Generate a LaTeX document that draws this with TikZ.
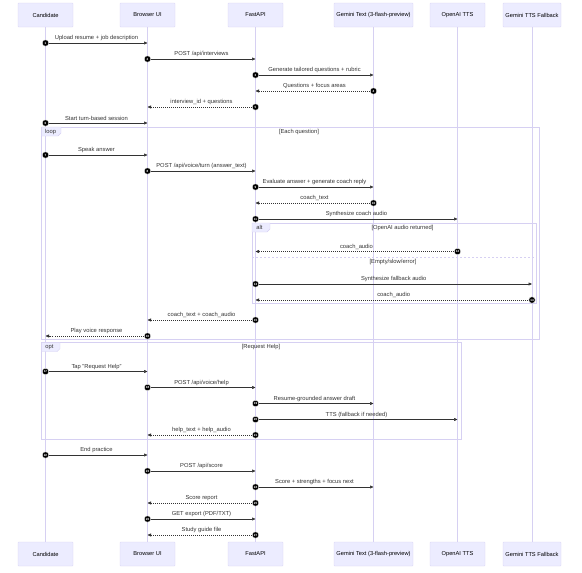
\documentclass[tikz,border=0pt]{standalone}
\usepackage{fontspec}
\setmainfont{Liberation Sans}
\usetikzlibrary{arrows.meta}
\definecolor{actfill}{HTML}{ECECFF}
\definecolor{actline}{HTML}{D6D0F2}
\definecolor{ink}{HTML}{333333}
\tikzset{
  actor/.style={draw=actline,fill=actfill,minimum height=24pt,inner sep=0pt,rounded corners=0.6pt,font=\fontsize{5.7}{6}\selectfont,text=black},
  lifeline/.style={draw=actline,line width=0.6pt},
  msg/.style={draw=ink,line width=0.5pt,-{Triangle[length=3.5pt,width=3pt]}},
  reply/.style={msg,dash pattern=on 1pt off 1pt},
  num/.style={circle,fill=black,draw=white,line width=0.3pt,minimum size=6.5pt,inner sep=0pt,text=white,font=\fontsize{3}{3}\selectfont\bfseries},
  lbl/.style={font=\fontsize{5.8}{6}\selectfont,text=ink,inner sep=0pt},
  frame/.style={draw=actline,line width=0.5pt},
  tab/.style={draw=actline,fill=actfill,line width=0.4pt}
}
\begin{document}
\begin{tikzpicture}[x=1pt,y=-1pt]
\pgfmathsetmacro{\ktop}{15}
\pgfmathsetmacro{\kbot}{554}
\useasboundingbox (0,0) rectangle (582,573);
% actors and lifelines
\foreach \p/\x/\w/\t in {C/45.5/55/Candidate,B/147.5/55/Browser UI,F/255.5/55/FastAPI,G/373.5/79/{Gemini Text (3-flash-preview)},O/457.5/55/OpenAI TTS,T/532/58/Gemini TTS Fallback}{
  \node[actor,minimum width=\w pt](\p) at (\x,\ktop){\t};
  \node[actor,minimum width=\w pt](bot\p) at (\x,\kbot){\t};
  \draw[lifeline](\p)--(bot\p);
}
% loop frame
\draw[frame](41.7,127) rectangle (539,339);
\draw[tab](41.7,127)--(61,127)--(61,133)--(58,136)--(41.7,136)--cycle;
\node[lbl] at (50.5,131.5){loop};
\node[lbl] at (299,131.5){[Each question]};
% alt frame
\draw[frame](252,223) rectangle (536,303);
\draw[tab](252,223)--(270,223)--(270,229)--(267,232)--(252,232)--cycle;
\node[lbl] at (259.5,227.5){alt};
\node[lbl] at (402.5,228){[OpenAI audio returned]};
\draw[frame,dash pattern=on 2pt off 2pt](252,257)--(536,257);
\node[lbl] at (393,262){[Empty/slow/error]};
% opt frame
\draw[frame](41.7,342.7) rectangle (461.7,439);
\draw[tab](41.7,342.7)--(60,342.7)--(60,348.7)--(57,351.7)--(41.7,351.7)--cycle;
\node[lbl] at (49.5,347.3){opt};
\node[lbl] at (261,347.3){[Request Help]};
% messages
\foreach \n/\s/\e/\y/\txt/\st in {
  1/C/B/43/{Upload resume + job description}/msg,
  2/B/F/59/{POST /api/interviews}/msg,
  3/F/G/75/{Generate tailored questions + rubric}/msg,
  4/G/F/91/{Questions + focus areas}/reply,
  5/F/B/107/{interview\_id + questions}/reply,
  6/C/B/123/{Start turn-based session}/msg,
  7/C/B/155/{Speak answer}/msg,
  8/B/F/171/{POST /api/voice/turn (answer\_text)}/msg,
  9/F/G/187/{Evaluate answer + generate coach reply}/msg,
  10/G/F/203/{coach\_text}/reply,
  11/F/O/219/{Synthesize coach audio}/msg,
  12/O/F/251.5/{coach\_audio}/reply,
  13/F/T/284/{Synthesize fallback audio}/msg,
  14/T/F/300/{coach\_audio}/reply,
  15/F/B/320/{coach\_text + coach\_audio}/reply,
  16/B/C/336/{Play voice response}/reply,
  17/C/B/371.5/{Tap "Request Help"}/msg,
  18/B/F/387.5/{POST /api/voice/help}/msg,
  19/F/G/403.5/{Resume-grounded answer draft}/msg,
  20/F/O/419.5/{TTS (fallback if needed)}/msg,
  21/F/B/435/{help\_text + help\_audio}/reply,
  22/C/B/455/{End practice}/msg,
  23/B/F/471/{POST /api/score}/msg,
  24/F/G/487/{Score + strengths + focus next}/msg,
  25/F/B/503/{Score report}/reply,
  26/B/F/519/{GET export (PDF/TXT)}/msg,
  27/F/B/535/{Study guide file}/reply}{
  \coordinate(m\n) at (\s |- 0,\y);
  \coordinate(t\n) at (\e |- 0,\y);
  \draw[\st](m\n)--(t\n)node[lbl,midway,above=1.8pt]{\txt};
  \node[num](c\n) at (m\n){\n};
}
\end{tikzpicture}
\end{document}
